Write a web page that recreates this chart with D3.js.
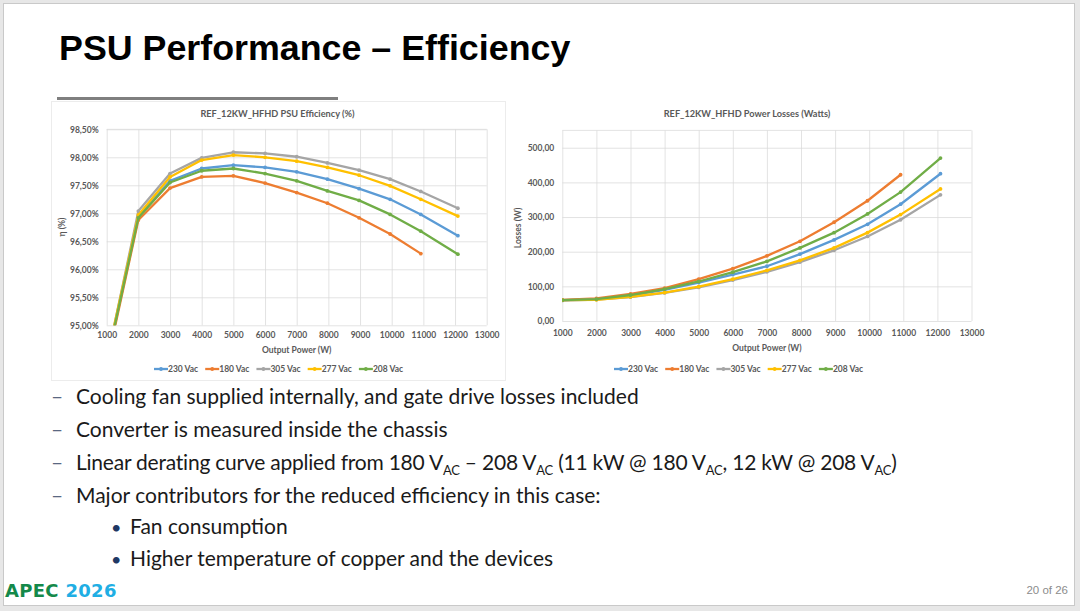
<!DOCTYPE html>
<html>
<head>
<meta charset="utf-8">
<script src="https://cdnjs.cloudflare.com/ajax/libs/d3/7.8.5/d3.min.js"></script>
<style>
  html, body { margin: 0; padding: 0; background: #e7e7e7; }
  svg { display: block; }
</style>
</head>
<body>
<script>
//---------------------------------- datos
var powerW = [1000, 2000, 3000, 4000, 5000, 6000, 7000, 7970, 8970, 9950, 10920, 12090];
var seriesNames = ["230 Vac", "180 Vac", "305 Vac", "277 Vac", "208 Vac"];
var seriesColors = ["#5b9bd5", "#ed7d31", "#a5a5a5", "#ffc000", "#70ad47"];

// efficiency (%)
var eff230 = [94.36, 96.94, 97.58, 97.80, 97.86, 97.82, 97.74, 97.61, 97.44, 97.25, 96.98, 96.60];
var eff180 = [94.30, 96.88, 97.45, 97.65, 97.67, 97.54, 97.37, 97.18, 96.92, 96.63, 96.28];
var eff305 = [94.36, 97.04, 97.71, 97.99, 98.09, 98.07, 98.01, 97.90, 97.77, 97.61, 97.39, 97.09];
var eff277 = [94.38, 96.97, 97.65, 97.95, 98.04, 98.00, 97.93, 97.82, 97.68, 97.49, 97.25, 96.95];
var eff208 = [94.34, 96.92, 97.55, 97.76, 97.80, 97.71, 97.58, 97.40, 97.23, 96.98, 96.68, 96.27];

// losses (W)
var loss230 = [60, 63, 74, 90, 111, 134, 158, 193, 234, 279, 337, 425];
var loss180 = [61, 65, 78, 95, 121, 151, 188, 230, 285, 347, 422];
var loss305 = [59, 62, 69, 81, 97, 118, 142, 170, 204, 244, 292, 364];
var loss277 = [60, 61, 70, 82, 99, 121, 146, 175, 211, 255, 307, 381];
var loss208 = [60, 63, 75, 92, 114, 141, 172, 211, 255, 309, 372, 470];

var xTicks = [1000, 2000, 3000, 4000, 5000, 6000, 7000, 8000, 9000, 10000, 11000, 12000, 13000];
var effTicks = [95, 95.5, 96, 96.5, 97, 97.5, 98, 98.5];
var lossTicks = [0, 100, 200, 300, 400, 500];

var slideTitle = "PSU Performance \u2013 Efficiency";
var bullets = [
	{lvl: 1, parts: [["Cooling fan supplied internally, and gate drive losses included"]]},
	{lvl: 1, parts: [["Converter is measured inside the chassis"]]},
	{lvl: 1, parts: [["Linear derating curve applied from 180 V"], ["AC", 1], [" \u2013 208 V"], ["AC", 1],
		[" (11 kW @ 180 V"], ["AC", 1], [", 12 kW @ 208 V"], ["AC", 1], [")"]]},
	{lvl: 1, parts: [["Major contributors for the reduced efficiency in this case:"]]},
	{lvl: 2, parts: [["Fan consumption"]]},
	{lvl: 2, parts: [["Higher temperature of copper and the devices"]]}
];
//----------------------------------

var W = 1080, H = 611;
var chartFont = "Lato, 'Open Sans', sans-serif";
var txtGray = "#595959";

var svg = d3.select("body").append("svg")
	.attr("width", W)
	.attr("height", H);

// slide
svg.append("rect")
	.attr("x", 3.5).attr("y", 3.5)
	.attr("width", 1071).attr("height", 602)
	.attr("fill", "#fff")
	.attr("stroke", "#c9c9c9");

svg.append("text")
	.attr("x", 59).attr("y", 60)
	.attr("font-family", "'Liberation Sans', Arial, sans-serif")
	.attr("font-weight", "bold")
	.attr("font-size", 35.8)
	.attr("fill", "#000")
	.text(slideTitle);

// left chart frame + decorative bar
svg.append("rect")
	.attr("x", 51.5).attr("y", 101.5)
	.attr("width", 454).attr("height", 279)
	.attr("fill", "#fff")
	.attr("stroke", "#ececec");
svg.append("rect")
	.attr("x", 57).attr("y", 97)
	.attr("width", 281).attr("height", 3)
	.attr("fill", "#7f7f7f");

var commaFmt = function (f) {
	return function (v) { return d3.format(f)(v).replace(".", ","); };
};

function lineChart(opt)
{
	var x = d3.scaleLinear().domain([1000, 13000]).range([opt.left, opt.right]);
	var y = d3.scaleLinear().domain(opt.yDomain).range([opt.bottom, opt.top]);
	var g = svg.append("g");
	var clipId = "clip-" + opt.id;

	g.append("defs").append("clipPath")
		.attr("id", clipId)
		.append("rect")
		.attr("x", opt.left).attr("y", opt.top - 4)
		.attr("width", opt.right - opt.left + 4)
		.attr("height", opt.bottom - opt.top + 4);

	// gridlines
	g.append("g")
		.attr("transform", "translate(0," + opt.bottom + ")")
		.call(d3.axisBottom(x).tickValues(xTicks).tickSize(-(opt.bottom - opt.top)).tickFormat(""))
		.call(function (s) {
			s.select(".domain").remove();
			s.selectAll("line").attr("stroke", "#d9d9d9").attr("stroke-width", 0.75);
		});
	g.append("g")
		.attr("transform", "translate(" + opt.left + ",0)")
		.call(d3.axisLeft(y).tickValues(opt.yTicks).tickSize(-(opt.right - opt.left)).tickFormat(""))
		.call(function (s) {
			s.select(".domain").remove();
			s.selectAll("line").attr("stroke", "#d9d9d9").attr("stroke-width", 0.75);
		});
	g.append("line")
		.attr("x1", opt.left).attr("x2", opt.right)
		.attr("y1", opt.top).attr("y2", opt.top)
		.attr("stroke", "#d9d9d9").attr("stroke-width", 0.75);

	// tick labels
	g.append("g")
		.attr("transform", "translate(" + opt.left + ",0)")
		.call(d3.axisLeft(y).tickValues(opt.yTicks).tickSize(0).tickPadding(8).tickFormat(opt.yFormat))
		.call(function (s) {
			s.select(".domain").remove();
			s.selectAll("text").attr("fill", txtGray).attr("font-family", chartFont)
				.attr("font-weight", "bold").attr("font-size", 8.5);
		});
	g.append("g")
		.attr("transform", "translate(0," + opt.bottom + ")")
		.call(d3.axisBottom(x).tickValues(xTicks).tickSize(0).tickPadding(opt.xPad).tickFormat(d3.format("d")))
		.call(function (s) {
			s.select(".domain").remove();
			s.selectAll("text").attr("fill", txtGray).attr("font-family", chartFont)
				.attr("font-weight", "bold").attr("font-size", 8.5);
		});

	// titles
	g.append("text")
		.attr("x", opt.titleX).attr("y", opt.titleY)
		.attr("text-anchor", "middle")
		.attr("fill", txtGray).attr("font-family", chartFont)
		.attr("font-weight", "bold").attr("font-size", 9.2)
		.text(opt.title);
	g.append("text")
		.attr("x", (opt.left + opt.right) / 2).attr("y", opt.xTitleY)
		.attr("text-anchor", "middle")
		.attr("fill", txtGray).attr("font-family", chartFont)
		.attr("font-weight", "bold").attr("font-size", 8.5)
		.text("Output Power (W)");
	g.append("text")
		.attr("transform", "translate(" + opt.yTitleX + "," + opt.yTitleY + ") rotate(-90)")
		.attr("text-anchor", "middle")
		.attr("fill", txtGray).attr("font-family", chartFont)
		.attr("font-weight", "bold").attr("font-size", 8.5)
		.text(opt.yTitle);

	// series
	var line = d3.line()
		.x(function (d) { return x(d[0]); })
		.y(function (d) { return y(d[1]); });
	var body = g.append("g").attr("clip-path", "url(#" + clipId + ")");
	opt.series.forEach(function (vals, i) {
		var pts = vals.map(function (v, j) { return [powerW[j], v]; });
		body.append("path")
			.datum(pts)
			.attr("d", line)
			.attr("fill", "none")
			.attr("stroke", seriesColors[i])
			.attr("stroke-width", 2.3)
			.attr("stroke-linejoin", "round")
			.attr("stroke-linecap", "round");
		body.selectAll(null)
			.data(pts)
			.enter()
			.append("circle")
			.attr("cx", function (d) { return x(d[0]); })
			.attr("cy", function (d) { return y(d[1]); })
			.attr("r", 1.9)
			.attr("fill", seriesColors[i]);
	});

	// legend
	var lg = g.append("g").attr("transform", "translate(" + opt.legendX + "," + opt.legendY + ")");
	var lx = 0;
	seriesNames.forEach(function (name, i) {
		var it = lg.append("g").attr("transform", "translate(" + lx + ",0)");
		it.append("line")
			.attr("x1", 0).attr("x2", 14)
			.attr("stroke", seriesColors[i]).attr("stroke-width", 2.3);
		it.append("circle").attr("cx", 7).attr("r", 1.9).attr("fill", seriesColors[i]);
		var t = it.append("text")
			.attr("x", 14).attr("dy", "0.35em")
			.attr("fill", txtGray).attr("font-family", chartFont)
			.attr("font-weight", "bold").attr("font-size", 8.5)
			.text(name);
		lx += 14 + t.node().getComputedTextLength() + opt.legendGap;
	});
}

lineChart({
	id: "eff",
	left: 106.7, right: 486.7, top: 129.3, bottom: 325.3,
	yDomain: [95, 98.5], yTicks: effTicks,
	yFormat: function (v) { return commaFmt(".2f")(v) + "%"; },
	series: [eff230, eff180, eff305, eff277, eff208],
	xPad: 7,
	title: "REF_12KW_HFHD PSU Efficiency (%)", titleX: 277.5, titleY: 117,
	xTitleY: 353, yTitle: "\u03b7 (%)", yTitleX: 65, yTitleY: 227,
	legendX: 154, legendY: 369, legendGap: 7
});

lineChart({
	id: "loss",
	left: 562.3, right: 971.5, top: 130.4, bottom: 321,
	yDomain: [0, 550], yTicks: lossTicks,
	yFormat: commaFmt(".2f"),
	series: [loss230, loss180, loss305, loss277, loss208],
	xPad: 9,
	title: "REF_12KW_HFHD Power Losses (Watts)", titleX: 747, titleY: 116.5,
	xTitleY: 350.5, yTitle: "Losses (W)", yTitleX: 521, yTitleY: 228,
	legendX: 614, legendY: 369, legendGap: 7
});

// bullets
var bodyFont = "Lato, 'Open Sans', sans-serif";
bullets.forEach(function (b, i) {
	var y0 = i < 4 ? 404 + i * 33 : 534 + (i - 4) * 32;
	var tx = b.lvl === 1 ? 76 : 130;
	svg.append("text")
		.attr("x", b.lvl === 1 ? 51 : 111).attr("y", y0)
		.attr("font-family", bodyFont).attr("font-size", b.lvl === 1 ? 21 : 18)
		.attr("fill", b.lvl === 1 ? "#5a6781" : "#1f3864")
		.text(b.lvl === 1 ? "\u2013" : "\u2022");
	var t = svg.append("text")
		.attr("x", tx).attr("y", y0)
		.attr("font-family", bodyFont).attr("font-size", 21)
		.attr("fill", "#1a1a1a");
	var shifted = false;
	b.parts.forEach(function (p) {
		var sp = t.append("tspan").text(p[0]);
		if (p[1] && !shifted) { sp.attr("dy", 4.5).attr("font-size", 13); shifted = true; }
		else if (!p[1] && shifted) { sp.attr("dy", -4.5); shifted = false; }
		else if (p[1]) { sp.attr("font-size", 13); }
	});
	// Calibri digits are narrower than Lato's: squeeze the line with subscripts
	if (b.parts.length > 1) {
		var wNow = t.node().getComputedTextLength();
		var wRef = 821;
		if (wNow > wRef) {
			var n = t.text().length;
			t.attr("letter-spacing", -(wNow - wRef) / n);
		}
	}
});

// footer
var logo = svg.append("text")
	.attr("x", 5).attr("y", 597)
	.attr("font-family", "'DejaVu Sans', sans-serif")
	.attr("font-weight", "bold").attr("font-size", 18)
	.attr("letter-spacing", 0.3);
logo.append("tspan").attr("fill", "#14894a").text("APEC");
logo.append("tspan").attr("fill", "#20aee4").text(" 2026");

svg.append("text")
	.attr("x", 1068).attr("y", 594)
	.attr("text-anchor", "end")
	.attr("font-family", "'Liberation Sans', Arial, sans-serif")
	.attr("font-size", 11.5)
	.attr("fill", "#8c8c8c")
	.text("20 of 26");
</script>
</body>
</html>
